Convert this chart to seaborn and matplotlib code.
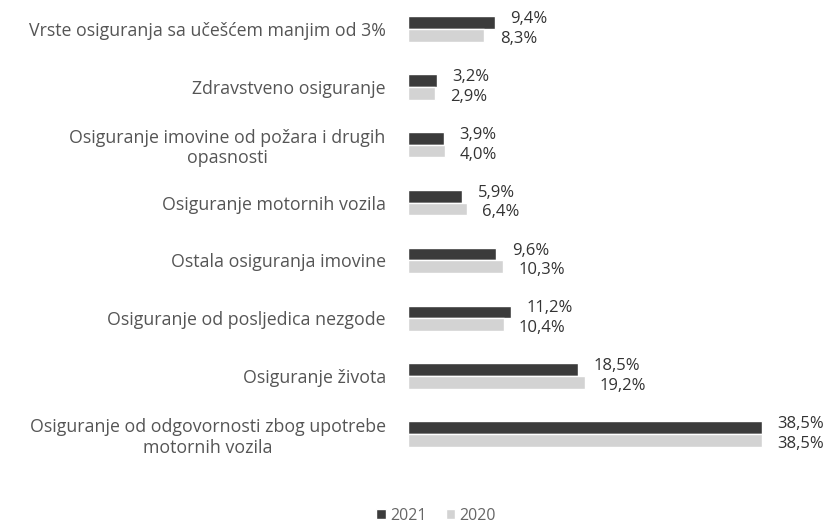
import matplotlib
matplotlib.use("Agg")
import matplotlib.pyplot as plt
import seaborn as sns
import pandas as pd

categories = [
    "Vrste osiguranja sa učešćem manjim od 3%",
    "Zdravstveno osiguranje",
    "Osiguranje imovine od požara i drugih\nopasnosti",
    "Osiguranje motornih vozila",
    "Ostala osiguranja imovine",
    "Osiguranje od posljedica nezgode",
    "Osiguranje života",
    "Osiguranje od odgovornosti zbog upotrebe\nmotornih vozila",
]
values_2021 = [9.4, 3.2, 3.9, 5.9, 9.6, 11.2, 18.5, 38.5]
values_2020 = [8.3, 2.9, 4.0, 6.4, 10.3, 10.4, 19.2, 38.5]
years = ["2021", "2020"]

df = pd.DataFrame({
    "kategorija": categories * 2,
    "godina": [years[0]] * len(categories) + [years[1]] * len(categories),
    "udio": values_2021 + values_2020,
})

sns.set_style("white")
plt.rcParams["font.family"] = ["Open Sans", "DejaVu Sans"]

fig = plt.figure(figsize=(8.28, 5.25), dpi=100)
ax = fig.add_axes([408 / 828, 1 - 463 / 525, (790 - 408) / 828, 463 / 525])

palette = {"2021": "#3b3b3b", "2020": "#d3d3d3"}
sns.barplot(data=df, y="kategorija", x="udio", hue="godina", hue_order=years,
            order=categories, palette=palette, width=0.44, ax=ax,
            saturation=1, errorbar=None, legend=True)

ax.set_xlim(0, 41.5)
for i, cont in enumerate(ax.containers):
    labels = [f"{b.get_width():.1f}%".replace(".", ",") for b in cont]
    anns = ax.bar_label(cont, labels=labels, padding=11, fontsize=12, color="#333333")
    dy = 2.5 if i == 0 else -2.5
    for a in anns:
        a.xyann = (11, dy)

ax.set_xlabel("")
ax.set_ylabel("")
ax.set_xticks([])
ax.tick_params(axis="y", length=0, pad=16, labelsize=12.8, labelcolor="#555555")
for lab in ax.get_yticklabels():
    lab.set_multialignment("center")
for s in ax.spines.values():
    s.set_visible(False)

ax.get_legend().remove()
handles, labs = ax.get_legend_handles_labels()
fig.legend(handles[:2], labs[:2], loc="center", bbox_to_anchor=(436 / 828, 1 - 516 / 525),
           ncol=2, frameon=False, fontsize=11.5, labelcolor="#666666",
           handlelength=0.6, handleheight=0.6, handletextpad=0.25, columnspacing=1.2)

fig.savefig("out.png", dpi=100, facecolor="white")
